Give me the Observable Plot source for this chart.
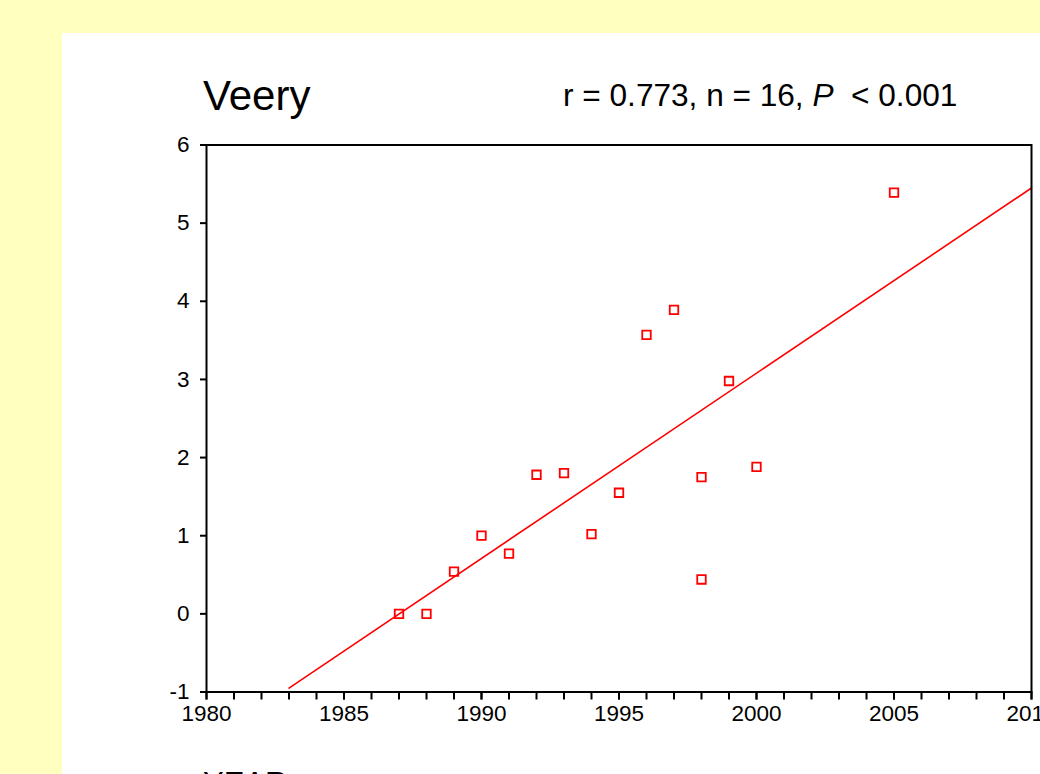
<!DOCTYPE html>
<html>
<head>
<meta charset="utf-8">
<script src="https://cdn.jsdelivr.net/npm/d3@7"></script>
<script src="https://cdn.jsdelivr.net/npm/@observablehq/plot@0.6"></script>
<style>
  html, body { margin: 0; padding: 0; }
  body { width: 1040px; height: 774px; overflow: hidden; background: #FFFFC0; position: relative;
         font-family: "Liberation Sans", Arial, sans-serif; }
  #panel { position: absolute; left: 62px; top: 33px; width: 978px; height: 741px; background: #ffffff; }
  #chart { position: absolute; left: 0; top: 0; }
  .txt { position: absolute; white-space: pre; color: #000; font-family: "Liberation Sans", Arial, sans-serif; }
  #title { left: 203px; top: 74.5px; font-size: 42px; line-height: 42px; }
  #stats { left: 563px; top: 80px; font-size: 31.6px; line-height: 31.6px; }
  #xlabel { left: 203px; top: 767.5px; font-size: 31px; line-height: 31px; }
</style>
</head>
<body>
<div id="panel"></div>
<div id="chart"></div>
<div class="txt" id="title">Veery</div>
<div class="txt" id="stats">r = 0.773, n = 16, <i>P</i>  &lt; 0.001</div>
<div class="txt" id="xlabel">YEAR</div>
<script>
// Data
const years  = [1987, 1988, 1989, 1990, 1991, 1992, 1993, 1994, 1995, 1996, 1997, 1998, 1998, 1999, 2000, 2005];
const values = [0.00, 0.00, 0.54, 1.00, 0.77, 1.78, 1.80, 1.02, 1.55, 3.57, 3.89, 1.75, 0.44, 2.98, 1.88, 5.39];

// Fitted regression line endpoints (as drawn in the reference)
const fitYears  = [1983, 2010];
const fitValues = [-0.95, 5.45];

// Axis ticks
const xMajorTicks = [1980, 1985, 1990, 1995, 2000, 2005, 2010];
const xMinorTicks = [1980, 1981, 1982, 1983, 1984, 1985, 1986, 1987, 1988, 1989, 1990,
                     1991, 1992, 1993, 1994, 1995, 1996, 1997, 1998, 1999, 2000,
                     2001, 2002, 2003, 2004, 2005, 2006, 2007, 2008, 2009, 2010];
const yTicks = [-1, 0, 1, 2, 3, 4, 5, 6];

const points = years.map((y, i) => ({year: y, value: values[i]}));
const fit = fitYears.map((y, i) => ({year: y, value: fitValues[i]}));

const chart = Plot.plot({
  width: 1040,
  height: 774,
  marginLeft: 206,
  marginRight: 9,
  marginTop: 144.5,
  marginBottom: 82.5,
  style: {background: "transparent", overflow: "visible", fontFamily: "Liberation Sans, Arial, sans-serif", color: "black"},
  x: {domain: [1980, 2010]},
  y: {domain: [-1, 6]},
  marks: [
    Plot.axisX({ticks: xMinorTicks, tickSize: 8, tickFormat: () => "", strokeWidth: 2, label: null}),
    Plot.axisX({ticks: xMajorTicks, tickSize: 8, tickPadding: 5, fontSize: 22.5, strokeWidth: 2, label: null, tickFormat: d => String(d)}),
    Plot.axisY({ticks: yTicks, tickSize: 6, tickPadding: 11, fontSize: 22.5, strokeWidth: 2, label: null, tickFormat: d => String(d)}),
    Plot.line(fit, {x: "year", y: "value", stroke: "#ff0000", strokeWidth: 1.6}),
    Plot.dot(points, {x: "year", y: "value", symbol: "square", r: 4.8, stroke: "#ff0000", fill: "none", strokeWidth: 1.8}),
    Plot.frame({stroke: "black", strokeWidth: 2})
  ]
});
document.getElementById("chart").appendChild(chart);
</script>
</body>
</html>
